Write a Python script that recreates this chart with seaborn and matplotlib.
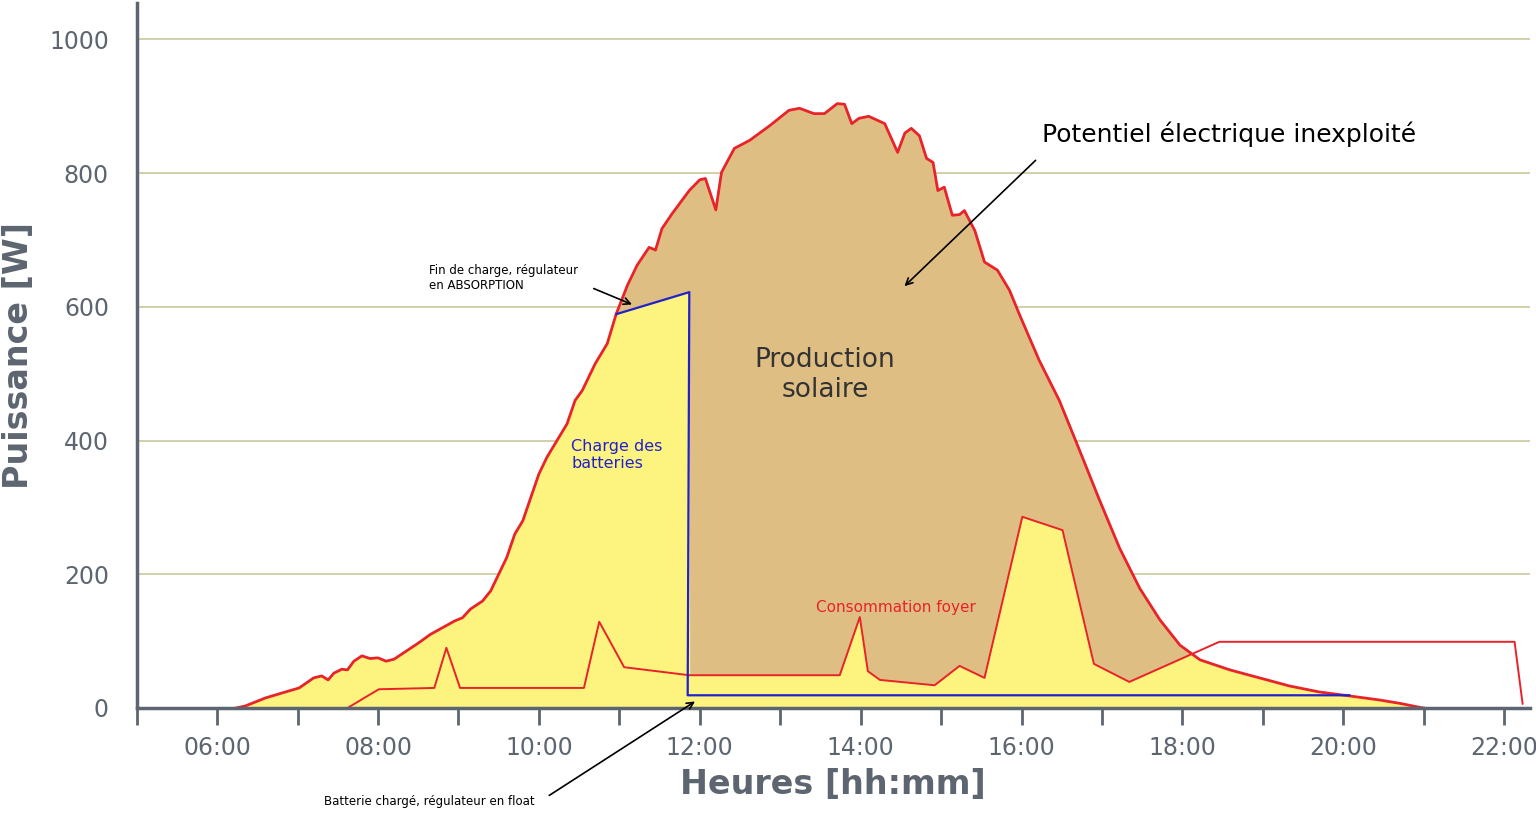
import numpy as np
import matplotlib
matplotlib.use("Agg")
import matplotlib.pyplot as plt
import seaborn as sns

prod_h = [6.12,6.35,6.6,6.85,7.02,7.2,7.3,7.38,7.45,7.55,7.62,7.7,7.8,7.9,8.0,8.1,8.2,8.35,8.5,8.65,8.8,8.95,9.05,9.15,9.3,9.4,9.5,9.6,9.7,9.8,9.9,10.0,10.1,10.2,10.35,10.45,10.54,10.7,10.85,10.96,11.1,11.22,11.37,11.45,11.53,11.66,11.87,12.0,12.07,12.2,12.27,12.43,12.62,12.87,13.11,13.24,13.42,13.55,13.71,13.8,13.89,13.98,14.1,14.3,14.46,14.55,14.63,14.73,14.82,14.9,14.96,15.04,15.14,15.23,15.29,15.42,15.54,15.7,15.85,15.98,16.22,16.47,16.72,16.97,17.22,17.47,17.72,17.97,18.22,18.59,18.96,19.33,19.7,20.08,20.45,20.7,20.95,21.14]
prod_w = [-3,3,15,24,30,45,48,42,52,58,57,70,78,74,75,70,73,85,97,110,120,130,135,148,160,175,200,225,260,280,315,350,375,395,425,460,475,515,545,589,632,662,689,685,717,740,774,790,792,745,801,837,849,871,894,897,889,889,904,903,874,882,885,874,831,860,867,856,822,816,774,779,737,738,744,714,667,655,625,587,520,460,386,311,239,179,132,94,72,57,45,33,24,18,12,7,1,-3]
cons_h = [7.62,8.01,8.7,8.85,9.02,10.56,10.75,11.06,11.87,13.74,13.99,14.09,14.24,14.92,15.23,15.54,16.01,16.51,16.9,17.34,18.46,22.13,22.23]
cons_w = [0,28,30,90,30,30,129,61,49,49,136,55,42,34,63,45,286,266,66,39,99,99,6]
batt_h = [10.96,11.87,11.85,20.08]
batt_w = [589,622,19,19]

sns.set_theme(style="white")
fig = plt.figure(figsize=(15.36,8.3), dpi=100)
ax = fig.add_axes([0.089,0.147,0.907,0.849])
grey = "#5d6670"

t = np.linspace(6.12,21.14,3000)
p = np.interp(t, prod_h, prod_w)
c = np.interp(t, cons_h, cons_w, left=0)
bl = np.interp(t, batt_h[:2], batt_w[:2])
top = np.where(t < batt_h[0], p, np.where(t < batt_h[1], bl, np.minimum(p, c)))
top = np.minimum(top, p)
ax.fill_between(t, 0, p, color="#dfbe84", lw=0)
ax.fill_between(t, 0, top, color="#fdf47f", lw=0)
sns.lineplot(x=prod_h, y=prod_w, sort=False, color="#e8232a", lw=2, ax=ax)
sns.lineplot(x=cons_h, y=cons_w, sort=False, color="#e8232a", lw=1.4, ax=ax)
sns.lineplot(x=batt_h, y=batt_w, sort=False, color="#2222cc", lw=1.6, ax=ax)

ax.set_xlim(5.0,22.32)
ax.set_ylim(0,1054)
for v in [200,400,600,800,1000]:
    ax.axhline(v, color="#cfcba6", lw=1.3, zorder=0)
ax.set_yticks([0,200,400,600,800,1000])
ax.set_xticks(range(6,23,2))
ax.set_xticklabels([f"{h:02d}:00" for h in range(6,23,2)])
ax.set_xticks(range(5,23), minor=True)
ax.tick_params(axis="x", which="both", direction="out", length=12, width=2, color=grey, labelsize=17, labelcolor=grey, pad=8, bottom=True)
ax.tick_params(axis="y", length=0, labelsize=17, labelcolor=grey, pad=20)
for s in ["top","right"]:
    ax.spines[s].set_visible(False)
for s in ["left","bottom"]:
    ax.spines[s].set_color(grey); ax.spines[s].set_linewidth(2.5)
ax.set_xlabel("Heures [hh:mm]", fontsize=24, fontweight="bold", color=grey, labelpad=6)
ax.set_ylabel("Puissance [W]", fontsize=24, fontweight="bold", color=grey, labelpad=10)

ax.text(16.25,858,"Potentiel électrique inexploité", fontsize=18, color="black", va="center")
ax.annotate("", xy=(14.52,628), xytext=(16.2,822), arrowprops=dict(arrowstyle="->", color="black", lw=1.2))
ax.text(13.56,498,"Production\nsolaire", fontsize=19, color="#333333", ha="center", va="center")
ax.text(10.4,378,"Charge des\nbatteries", fontsize=11.5, color="#2222cc", va="center")
ax.text(13.44,151,"Consommation foyer", fontsize=11, color="#e8232a", va="center")
ax.text(8.64,643,"Fin de charge, régulateur\nen ABSORPTION", fontsize=8.5, color="black", va="center")
ax.annotate("", xy=(11.19,602), xytext=(10.65,629), arrowprops=dict(arrowstyle="->", color="black", lw=1.2))
ax.text(7.33,-140,"Batterie chargé, régulateur en float", fontsize=8.5, color="black", va="center")
ax.annotate("", xy=(11.97,12), xytext=(10.1,-133), annotation_clip=False, arrowprops=dict(arrowstyle="->", color="black", lw=1.2))
fig.savefig("out.png", dpi=100)
